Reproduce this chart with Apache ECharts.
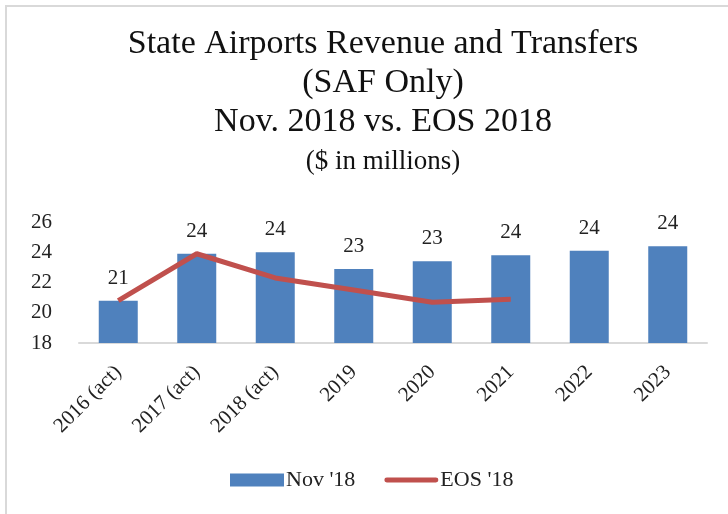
<!DOCTYPE html>
<html>
<head>
<meta charset="utf-8">
<script src="https://cdn.jsdelivr.net/npm/echarts@6/dist/echarts.min.js"></script>
<style>
  html, body { margin: 0; padding: 0; background: #fff; }
  #chart { width: 728px; height: 514px; }
</style>
</head>
<body>
<div id="chart"></div>
<script>
const categories = ['2016 (act)', '2017 (act)', '2018 (act)', '2019', '2020', '2021', '2022', '2023']
const nov18 = [20.8, 23.9, 24.0, 22.9, 23.4, 23.8, 24.1, 24.4]
const eos18 = [20.8, 23.9, 22.3, 21.5, 20.7, 20.9, null, null]
const yTicks = { min: 18, max: 26, interval: 2 }

const serif = '"Liberation Serif", "DejaVu Serif", serif'
const chart = echarts.init(document.getElementById('chart'))

const option = {
  backgroundColor: '#fff',
  animation: false,
  title: {
    text: 'State Airports Revenue and Transfers\n(SAF Only)\nNov. 2018 vs. EOS 2018\n{s|($ in millions)}',
    left: 383,
    top: 25,
    padding: 0,
    textAlign: 'center',
    textStyle: {
      fontFamily: serif,
      fontWeight: 'normal',
      fontSize: 34,
      lineHeight: 39,
      color: '#111',
      rich: {
        s: { fontFamily: serif, fontSize: 27, lineHeight: 39, color: '#111' }
      }
    }
  },
  graphic: [{
    type: 'rect',
    shape: { x: 6, y: 6, width: 760, height: 560 },
    style: { fill: 'none', stroke: '#d9d9d9', lineWidth: 2 },
    silent: true
  }],
  legend: {
    left: 230,
    top: 469,
    padding: 0,
    itemWidth: 54,
    itemHeight: 13,
    itemGap: 29,
    textStyle: { fontFamily: serif, fontSize: 22, color: '#222', padding: [0, 0, 0, -3] },
    data: [
      { name: "Nov '18", icon: 'rect' },
      { name: "EOS '18", icon: 'path://M2,0 L52,0 A2.5,2.5 0 0 1 52,5 L2,5 A2.5,2.5 0 0 1 2,0 Z' }
    ]
  },
  grid: {
    left: 79,
    right: 21,
    top: 222,
    bottom: 171,
    outerBoundsMode: 'none'
  },
  xAxis: {
    type: 'category',
    data: categories,
    axisLine: { lineStyle: { color: '#d9d9d9', width: 2 } },
    axisTick: { show: false },
    axisLabel: {
      rotate: 45,
      margin: 26,
      interval: 0,
      fontFamily: serif,
      fontSize: 21,
      color: '#222'
    }
  },
  yAxis: {
    type: 'value',
    min: yTicks.min,
    max: yTicks.max,
    interval: yTicks.interval,
    axisLine: { show: false },
    axisTick: { show: false },
    splitLine: { show: false },
    axisLabel: {
      margin: 27,
      fontFamily: serif,
      fontSize: 21,
      color: '#222'
    }
  },
  series: [
    {
      name: "Nov '18",
      type: 'bar',
      data: nov18,
      barWidth: 39,
      itemStyle: { color: '#4f81bd' },
      label: {
        show: true,
        position: 'top',
        distance: 12,
        fontFamily: serif,
        fontSize: 21,
        color: '#222',
        formatter: p => Math.round(p.value)
      }
    },
    {
      name: "EOS '18",
      type: 'line',
      data: eos18,
      symbol: 'none',
      lineStyle: { color: '#c0504d', width: 5 },
      itemStyle: { color: '#c0504d' }
    }
  ]
}
chart.setOption(option)
</script>
</body>
</html>
